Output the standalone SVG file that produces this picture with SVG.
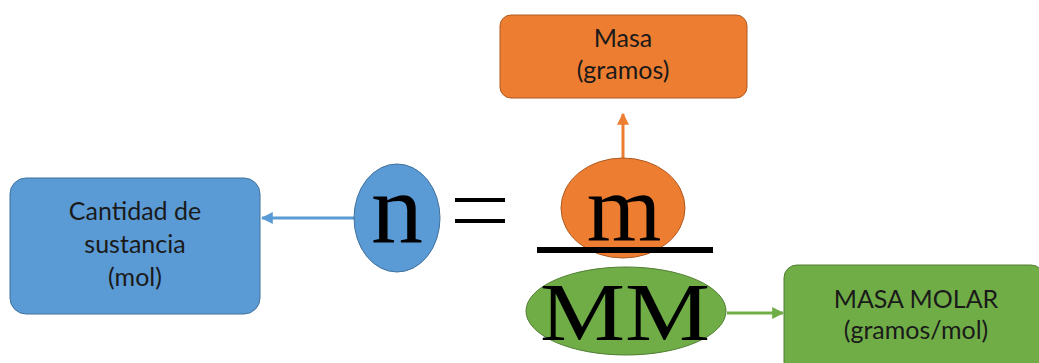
<svg xmlns="http://www.w3.org/2000/svg" width="1039" height="363" viewBox="0 0 1039 363">
<style>
.lbl{font-family:Lato,"Liberation Sans",sans-serif;fill:#1a1a1a;text-anchor:middle;font-size:25px}
.math{font-family:"Liberation Serif","DejaVu Serif",serif;fill:#000;text-anchor:middle}
</style>
<defs>
<marker id="ab" viewBox="0 0 10 10" refX="9" refY="5" markerWidth="4" markerHeight="4" orient="auto"><path d="M0,0L10,5L0,10z" fill="#5B9BD5"/></marker>
<marker id="ao" viewBox="0 0 10 10" refX="9" refY="5" markerWidth="4" markerHeight="4" orient="auto"><path d="M0,0L10,5L0,10z" fill="#ED7D31"/></marker>
<marker id="ag" viewBox="0 0 10 10" refX="9" refY="5" markerWidth="4" markerHeight="4" orient="auto"><path d="M0,0L10,5L0,10z" fill="#70AD47"/></marker>
</defs>
<rect width="1039" height="363" fill="#fff"/>
<g id="connectors">
<line x1="355" y1="218" x2="262" y2="218" stroke="#5B9BD5" stroke-width="3" marker-end="url(#ab)"/>
<line x1="623" y1="158" x2="623" y2="114" stroke="#ED7D31" stroke-width="3" marker-end="url(#ao)"/>
<line x1="727" y1="313" x2="783" y2="313" stroke="#70AD47" stroke-width="3" marker-end="url(#ag)"/>
</g>
<g id="cantidad">
<rect x="10" y="178" width="250" height="136" rx="16" fill="#5B9BD5" stroke="#41719C" stroke-width="1"/>
<text class="lbl" x="135" y="220">Cantidad de</text>
<text class="lbl" x="135" y="253">sustancia</text>
<text class="lbl" x="135" y="286">(mol)</text>
</g>
<g id="n">
<ellipse cx="397" cy="218" rx="43" ry="54" fill="#5B9BD5" stroke="#41719C" stroke-width="1"/>
<text class="math" font-size="100" x="397" y="242" textLength="52" lengthAdjust="spacingAndGlyphs">n</text>
</g>
<g id="equals">
<rect x="455" y="198" width="50" height="4" fill="#000"/>
<rect x="455" y="219" width="50" height="4" fill="#000"/>
</g>
<g id="masa">
<rect x="500" y="15" width="247" height="83" rx="11" fill="#ED7D31" stroke="#AE5A21" stroke-width="1"/>
<text class="lbl" x="623" y="47">Masa</text>
<text class="lbl" x="623" y="79">(gramos)</text>
</g>
<g id="m">
<ellipse cx="623" cy="208" rx="62" ry="50" fill="#ED7D31" stroke="#AE5A21" stroke-width="1"/>
<text class="math" font-size="96" x="624" y="240">m</text>
</g>
<g id="fraction">
<rect x="537" y="247" width="176" height="6" fill="#000"/>
</g>
<g id="MM">
<ellipse cx="626" cy="311" rx="100" ry="44" fill="#70AD47" stroke="#507E32" stroke-width="1"/>
<text class="math" font-size="82" x="625" y="340" textLength="170" lengthAdjust="spacingAndGlyphs">MM</text>
</g>
<g id="masamolar">
<rect x="784" y="265" width="260" height="110" rx="13" fill="#70AD47" stroke="#507E32" stroke-width="1"/>
<text class="lbl" x="916" y="308">MASA MOLAR</text>
<text class="lbl" x="916" y="339">(gramos/mol)</text>
</g>
</svg>
